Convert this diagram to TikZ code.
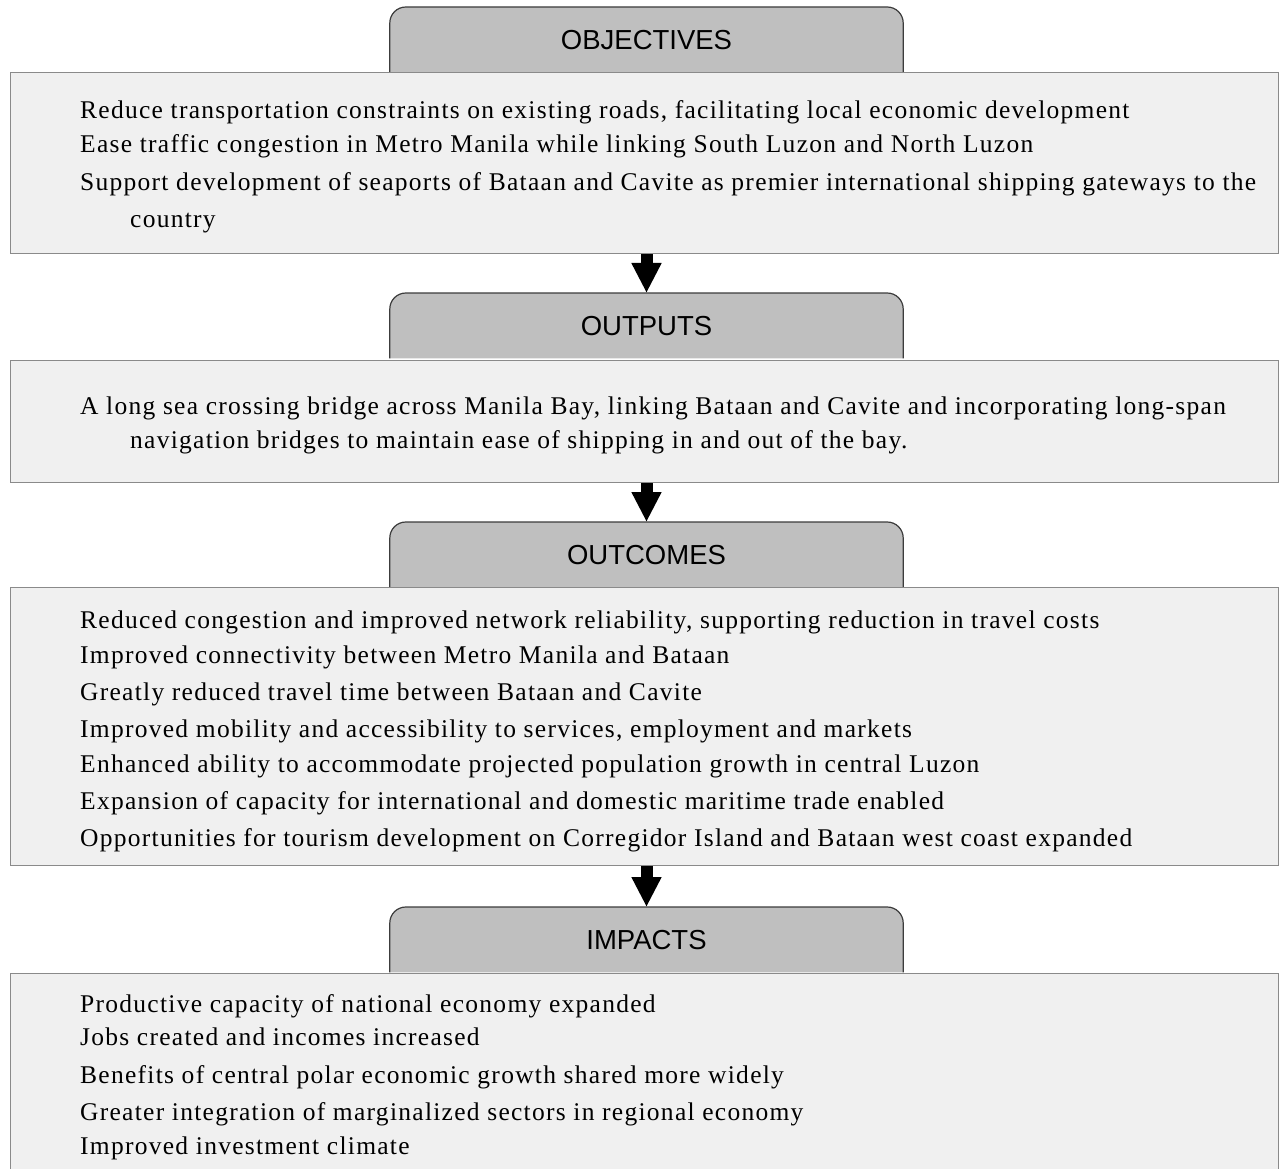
\documentclass[tikz,border=0pt]{standalone}
\usepackage{fontspec}
\setmainfont{Liberation Serif}
\newfontfamily\tabfamily{Liberation Sans}
\newfontfamily\itemfamily{Liberation Serif}[LetterSpace=5]
\usetikzlibrary{arrows.meta,positioning,backgrounds}
\definecolor{panelFill}{HTML}{F0F0F0}
\definecolor{panelRule}{HTML}{8A8A8A}
\definecolor{tabFill}{HTML}{BFBFBF}
\definecolor{tabRule}{HTML}{3C3C3C}

\begin{document}
\begin{tikzpicture}[x=1pt,y=-1pt,
    panel/.style={draw=panelRule,fill=panelFill,line width=1.4pt,
      anchor=north west,minimum width=1268pt,inner sep=0pt},
    tab/.style={anchor=north,minimum width=513pt,minimum height=65pt,
      inner sep=0pt,font=\tabfamily\fontsize{27.5}{30}\selectfont},
    item/.style={anchor=base west,inner sep=0pt,
      font=\itemfamily\fontsize{25.5}{29}\selectfont},
    flow/.style={line width=12pt,-{Triangle[length=30pt,width=28pt]}}]
  \useasboundingbox (0,0) rectangle (1283,1169);
  \begin{scope}
    \clip (0,0) rectangle (1283,1169);

    % objectives
    \node[tab] (objTab) at (646.5,7) {OBJECTIVES};
    \node[panel,minimum height=181pt] (objBox) at (10,72) {};
    \foreach \yy/\txt [count=\k] in {
        119/{Reduce transportation constraints on existing roads, facilitating local economic development},
        153/{Ease traffic congestion in Metro Manila while linking South Luzon and North Luzon},
        191/{Support development of seaports of Bataan and Cavite as premier international shipping gateways to the}}
      \node[item] (obj\k) at (80,\yy) {\txt};
    \node[item] (obj4) at (130,228) {country};

    % outputs
    \node[tab] (outTab) at (646.5,293) {OUTPUTS};
    \node[panel,minimum height=122pt] (outBox) at (10,360) {};
    \node[item] (out1) at (80,414) {A long sea crossing bridge across Manila Bay, linking Bataan and Cavite and incorporating long-span};
    \node[item] (out2) at (130,448) {navigation bridges to maintain ease of shipping in and out of the bay.};

    % outcomes
    \node[tab] (ocTab) at (646.5,522) {OUTCOMES};
    \node[panel,minimum height=278pt] (ocBox) at (10,587) {};
    \foreach \yy/\txt [count=\k] in {
        628/{Reduced congestion and improved network reliability, supporting reduction in travel costs},
        663/{Improved connectivity between Metro Manila and Bataan},
        700/{Greatly reduced travel time between Bataan and Cavite},
        737/{Improved mobility and accessibility to services, employment and markets},
        772/{Enhanced ability to accommodate projected population growth in central Luzon},
        809/{Expansion of capacity for international and domestic maritime trade enabled},
        846/{Opportunities for tourism development on Corregidor Island and Bataan west coast expanded}}
      \node[item] (oc\k) at (80,\yy) {\txt};

    % impacts
    \node[tab] (impTab) at (646.5,907) {IMPACTS};
    \node[panel,minimum height=220pt] (impBox) at (10,973) {};
    \foreach \yy/\txt [count=\k] in {
        1012/{Productive capacity of national economy expanded},
        1045/{Jobs created and incomes increased},
        1083/{Benefits of central polar economic growth shared more widely},
        1120/{Greater integration of marginalized sectors in regional economy},
        1154/{Improved investment climate}}
      \node[item] (imp\k) at (80,\yy) {\txt};

    % tab outlines, rounded on top only
    \begin{scope}[on background layer]
      \foreach \t in {objTab,outTab,ocTab,impTab}
        \draw[draw=tabRule,fill=tabFill,line width=1.2pt,rounded corners=16pt]
          (\t.south west) -- (\t.north west) -- (\t.north east) -- (\t.south east);
    \end{scope}

    % arrows between stages
    \draw[flow] (outTab.north |- objBox.south) -- (outTab.north);
    \draw[flow] (ocTab.north |- outBox.south) -- (ocTab.north);
    \draw[flow] (impTab.north |- ocBox.south) -- (impTab.north);
  \end{scope}
\end{tikzpicture}
\end{document}
